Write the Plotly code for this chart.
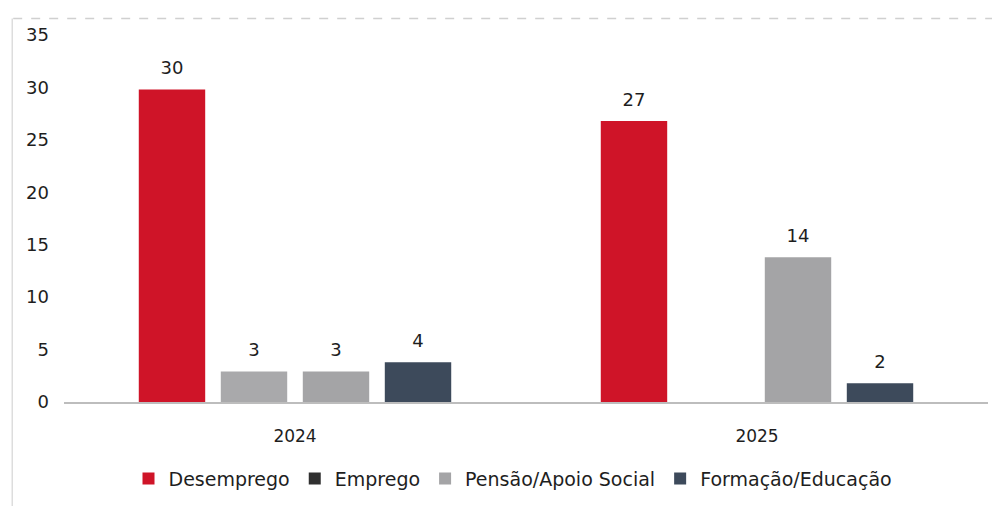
import plotly.graph_objects as go

# --- data ---
years = ["2024", "2025"]
desemprego = [29.8, 26.8]
emprego = [2.9, None]
pensao = [2.9, 13.8]
formacao = [3.8, 1.8]

series = [
    ("Desemprego", desemprego, "#cf1428"),
    ("Emprego", emprego, "#a9a9ab"),
    ("Pensão/Apoio Social", pensao, "#a4a4a6"),
    ("Formação/Educação", formacao, "#3d4a5b"),
]
legend_colors = ["#cf1428", "#303030", "#a4a4a6", "#3d4a5b"]

font_family = "DejaVu Sans"

fig = go.Figure()
for (name, vals, col), lcol in zip(series, legend_colors):
    same = col == lcol
    fig.add_trace(go.Bar(
        x=years, y=vals, name=name,
        marker=dict(color=col, line=dict(width=0)),
        # small base font + trailing line break lifts the label off the bar
        texttemplate="<span style='font-size:18px'>%{y:.0f}</span><br> ",
        textposition="outside",
        textfont=dict(size=8, color="#1e1e1e"),
        cliponaxis=False,
        legendgroup=name, showlegend=same,
    ))
    if not same:
        # legend-only key: the scan shows a darker key than the bar
        fig.add_trace(go.Scatter(
            x=[None], y=[None], name=name, mode="markers",
            marker=dict(color=lcol, symbol="square", size=12),
            legendgroup=name, showlegend=True,
        ))

fig.update_layout(
    width=1000, height=506,
    barmode="group",
    bargap=0.29,
    bargroupgap=0.19,
    paper_bgcolor="white",
    plot_bgcolor="white",
    font=dict(family=font_family, size=17, color="#1e1e1e"),
    margin=dict(l=56, r=20, t=27, b=112),
    showlegend=True,
    legend=dict(
        orientation="h", xref="container", x=0.505, xanchor="center",
        yref="container", y=0.07, yanchor="middle",
        font=dict(size=19, color="#1e1e1e"),
        traceorder="normal", itemwidth=30,
    ),
    xaxis=dict(
        showgrid=False, showline=True, linecolor="#bdbdbd", linewidth=1.5,
        ticks="", tickfont=dict(size=17), ticklabelstandoff=18,
    ),
    yaxis=dict(
        range=[0, 35], dtick=5, showgrid=False, zeroline=False,
        showline=False, ticks="", tickfont=dict(size=18),
        ticklabelstandoff=14,
    ),
    shapes=[
        dict(type="line", xref="paper", yref="paper", x0=-0.055, x1=1.03,
             y0=1.045, y1=1.045, line=dict(color="#d0d0d0", width=1.5, dash="dash")),
        dict(type="line", xref="paper", yref="paper", x0=-0.056, x1=-0.056,
             y0=-0.3, y1=1.045, line=dict(color="#dddddd", width=1.5)),
    ],
)

fig.write_html("out.html")
